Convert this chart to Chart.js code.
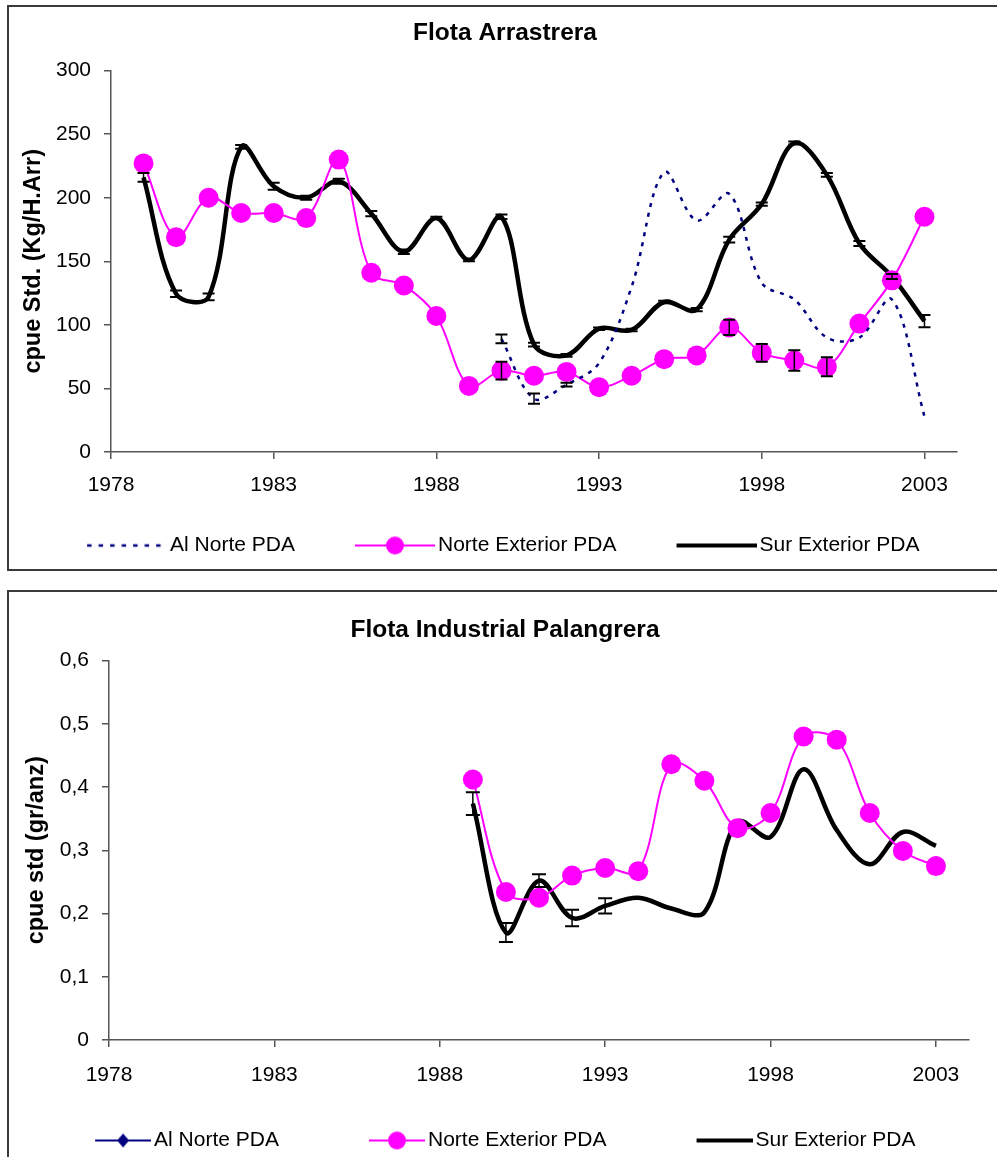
<!DOCTYPE html>
<html lang="es">
<head>
<meta charset="UTF-8">
<title>CPUE estandarizada - Flota Arrastrera / Flota Industrial Palangrera</title>
<script src="https://cdn.jsdelivr.net/npm/chart.js"></script>
<style>
    html, body {
        margin: 0;
        padding: 0;
        background: #fff;
        overflow: hidden;
        width: 997px;
        height: 1157px;
    }
    .frame {
        position: absolute;
        border: 2px solid #3a3a3a;
        box-sizing: border-box;
    }
    #frame1 { left: 7px; top: 5px; width: 1010px; height: 566px; }
    #frame2 { left: 7px; top: 590px; width: 1010px; height: 600px; }
    canvas { position: absolute; left: 0; }
    #chart1 { top: 0; }
    #chart2 { top: 585px; }
</style>
</head>
<body>
<div class="frame" id="frame1"></div>
<div class="frame" id="frame2"></div>
<canvas id="chart1" width="1010" height="566"></canvas>
<canvas id="chart2" width="1010" height="576"></canvas>

<script>
// ---- data ----
const xTicks = [1978, 1983, 1988, 1993, 1998, 2003];

// Flota Arrastrera (kg/h.arr)
const years1 = [1979, 1980, 1981, 1982, 1983, 1984, 1985, 1986, 1987, 1988, 1989, 1990,
                1991, 1992, 1993, 1994, 1995, 1996, 1997, 1998, 1999, 2000, 2001, 2002, 2003];
const alNorte1 = [null, null, null, null, null, null, null, null, null, null, null, 89,
                  42, 53, 70, 130, 220, 182, 203, 133, 120, 90, 90, 120, 28];
const alNorte1Err = [0, 0, 0, 0, 0, 0, 0, 0, 0, 0, 0, 3.5,
                     4, 1.5, 0, 0, 0, 0, 0, 0, 0, 0, 0, 0, 0];
const norteExt1 = [227, 169, 200, 188, 188, 184, 230, 141, 131, 107, 52, 64,
                   60, 63, 51, 60, 73, 76, 98, 78, 72, 67, 101, 135, 185];
const norteExt1Err = [0, 0, 0, 0, 0, 0, 0, 0, 0, 0, 0, 7,
                      0, 0, 0, 0, 0, 0, 6, 7, 8, 7.5, 0, 0, 0];
const sur1 = [216, 124.5, 122, 240, 209, 200, 213, 187.5, 157.5, 184, 151, 185,
              84.5, 76, 97, 96, 118, 112, 167, 195, 243, 218, 164, 138, 103];
const sur1Err = [3.5, 2.5, 2.6, 1.5, 2.7, 1.5, 2, 2, 1.8, 1, 1, 1.8,
                 1.5, 1, 1, 1, 1, 1.3, 2.3, 1.3, 1.2, 1.5, 2, 2, 4.8];
const yTicks1 = [0, 50, 100, 150, 200, 250, 300];

// Flota Industrial Palangrera (gr/anz)
const years2 = [1989, 1990, 1991, 1992, 1993, 1994, 1995, 1996, 1997, 1998, 1999, 2000, 2001, 2002, 2003];
const alNorte2 = [];
const norteExt2 = [0.412, 0.234, 0.225, 0.26, 0.272, 0.267, 0.436, 0.41, 0.335, 0.359, 0.48, 0.475, 0.359, 0.299, 0.275];
const sur2 = [0.374, 0.17, 0.252, 0.193, 0.212, 0.225, 0.208, 0.202, 0.345, 0.321, 0.428, 0.332, 0.278, 0.329, 0.307];
const sur2Err = [0.018, 0.015, 0.01, 0.013, 0.012, 0, 0, 0, 0, 0, 0, 0, 0, 0, 0];
const yTicks2 = [0, 0.1, 0.2, 0.3, 0.4, 0.5, 0.6];

const seriesNames = ['Al Norte PDA', 'Norte Exterior PDA', 'Sur Exterior PDA'];

const NAVY = '#000080';
const MAGENTA = '#FF00FF';
const AXIS = '#555555';

Chart.defaults.font.family = '"Liberation Sans", Arial, sans-serif';
Chart.defaults.color = '#000';

function points(years, values) {
    return values.map((v, i) => ({ x: years[i], y: v }));
}

// vertical error bars drawn through the chart's own scales
function errorBars(sets, cap) {
    return {
        id: 'errorBars',
        afterDatasetsDraw(chart) {
            const ctx = chart.ctx;
            const xs = chart.scales.x;
            const ys = chart.scales.y;
            ctx.save();
            ctx.strokeStyle = '#000';
            sets.forEach(set => {
                set.values.forEach((v, i) => {
                    const e = set.errors[i];
                    if (v == null || !e) return;
                    const x = xs.getPixelForValue(set.years[i]);
                    const yT = ys.getPixelForValue(v + e);
                    const yB = ys.getPixelForValue(v - e);
                    ctx.lineWidth = 1.5;
                    ctx.beginPath();
                    ctx.moveTo(x, yT);
                    ctx.lineTo(x, yB);
                    ctx.stroke();
                    ctx.lineWidth = 2;
                    ctx.beginPath();
                    ctx.moveTo(x - cap, yT); ctx.lineTo(x + cap, yT);
                    ctx.moveTo(x - cap, yB); ctx.lineTo(x + cap, yB);
                    ctx.stroke();
                });
            });
            ctx.restore();
        }
    };
}

// legend samples (line + marker), line flush to the right side of the image
function sample(width, len, draw) {
    const c = document.createElement('canvas');
    c.width = width;
    c.height = 24;
    const g = c.getContext('2d');
    draw(g, width - len, width, 12);
    return c;
}
function dashedLine(g, a, b, y) {
    g.strokeStyle = NAVY; g.lineWidth = 2.5; g.setLineDash([4.5, 7]);
    g.beginPath(); g.moveTo(a, y); g.lineTo(b, y); g.stroke();
}
function circleLine(g, a, b, y) {
    g.strokeStyle = MAGENTA; g.lineWidth = 2;
    g.beginPath(); g.moveTo(a, y); g.lineTo(b, y); g.stroke();
    g.fillStyle = MAGENTA;
    g.beginPath(); g.arc((a + b) / 2, y, 9, 0, Math.PI * 2); g.fill();
}
function boldLine(g, a, b, y) {
    g.strokeStyle = '#000'; g.lineWidth = 4;
    g.beginPath(); g.moveTo(a, y); g.lineTo(b, y); g.stroke();
}
function diamondLine(g, a, b, y) {
    g.strokeStyle = NAVY; g.lineWidth = 2;
    g.beginPath(); g.moveTo(a, y); g.lineTo(b, y); g.stroke();
    const m = (a + b) / 2;
    g.fillStyle = NAVY;
    g.beginPath(); g.moveTo(m, y - 7); g.lineTo(m + 6, y); g.lineTo(m, y + 7); g.lineTo(m - 6, y); g.closePath(); g.fill();
}

function buildChart(id, o) {
    return new Chart(document.getElementById(id), {
        type: 'line',
        data: { datasets: o.datasets },
        options: {
            responsive: false,
            animation: false,
            events: [],
            layout: { padding: 0 },
            scales: {
                x: {
                    type: 'linear',
                    min: 1978,
                    max: 2004,
                    afterBuildTicks: s => { s.ticks = xTicks.map(v => ({ value: v })); },
                    afterFit: s => { s.height = o.xHeight; },
                    grid: { drawOnChartArea: false, drawTicks: true, tickLength: 7, color: AXIS, lineWidth: 1.5 },
                    border: { color: AXIS, width: 1.5 },
                    // mirrored labels are not clipped to the (thin) axis box; negative padding puts them below it
                    ticks: { mirror: true, padding: o.xPad, font: { size: 21 }, maxRotation: 0, autoSkip: false,
                             callback: v => String(v) }
                },
                y: {
                    min: 0,
                    max: o.yTicks[o.yTicks.length - 1],
                    afterBuildTicks: s => { s.ticks = o.yTicks.map(v => ({ value: v })); },
                    afterFit: s => { s.width = o.yWidth; },
                    grid: { drawOnChartArea: false, drawTicks: true, tickLength: 7, color: AXIS, lineWidth: 1.5 },
                    border: { color: AXIS, width: 1.5 },
                    ticks: { padding: 13, font: { size: 21 }, callback: o.yFormat },
                    title: {
                        display: true,
                        text: o.yTitle,
                        font: { size: 23.5, weight: 'bold' },
                        padding: { top: o.yTitlePad, bottom: 0 }
                    }
                },
                yR: {
                    position: 'right',
                    display: true,
                    grid: { display: false },
                    border: { display: false },
                    ticks: { display: false },
                    afterFit: s => { s.width = o.rightGap; }
                }
            },
            plugins: {
                title: {
                    display: true,
                    text: o.title,
                    font: { size: 24.5, weight: 'bold' },
                    padding: o.titlePad
                },
                legend: {
                    position: 'bottom',
                    labels: {
                        usePointStyle: true,
                        pointStyleWidth: o.legendBox,
                        padding: o.legendPad,
                        font: { size: 21 },
                        generateLabels: chart => Chart.defaults.plugins.legend.labels.generateLabels(chart)
                            .map((item, i) => Object.assign(item, { pointStyle: o.samples[i] }))
                    }
                },
                tooltip: { enabled: false }
            }
        },
        plugins: [errorBars(o.errorSets, o.cap)]
    });
}

// ---- Flota Arrastrera ----
const box1 = 69, len1 = 80;
buildChart('chart1', {
    title: 'Flota Arrastrera',
    titlePad: { top: 18.6, bottom: 22.6 },
    yTitle: 'cpue Std. (Kg/H.Arr)',
    yTitlePad: 19,
    yTicks: yTicks1,
    yFormat: v => String(v),
    yWidth: 111,
    rightGap: 53,
    xHeight: 19.5,
    xPad: -45.6,
    legendBox: box1,
    legendPad: 63.5,
    cap: 6,
    samples: [
        sample(box1 + 15, len1, dashedLine),
        sample(box1 + 15, len1, circleLine),
        sample(box1 + 15, len1, boldLine)
    ],
    datasets: [
        { label: seriesNames[0], data: points(years1, alNorte1), borderColor: NAVY, backgroundColor: NAVY,
          borderWidth: 2.5, borderDash: [4, 6], pointRadius: 0, tension: 0.35, fill: false },
        { label: seriesNames[1], data: points(years1, norteExt1), borderColor: MAGENTA, backgroundColor: MAGENTA,
          borderWidth: 2, pointRadius: 10, pointBorderWidth: 0, pointBackgroundColor: MAGENTA, tension: 0.35, fill: false },
        { label: seriesNames[2], data: points(years1, sur1), borderColor: '#000', backgroundColor: '#000',
          borderWidth: 4.5, pointRadius: 0, tension: 0.35, fill: false }
    ],
    errorSets: [
        { years: years1, values: sur1, errors: sur1Err },
        { years: years1, values: alNorte1, errors: alNorte1Err },
        { years: years1, values: norteExt1, errors: norteExt1Err }
    ]
});

// ---- Flota Industrial Palangrera ----
const box2 = 49, len2 = 56;
buildChart('chart2', {
    title: 'Flota Industrial Palangrera',
    titlePad: { top: 30.6, bottom: 15.6 },
    yTitle: 'cpue std (gr/anz)',
    yTitlePad: 22,
    yTicks: yTicks2,
    yFormat: v => (v === 0 ? '0' : v.toFixed(1).replace('.', ',')),
    yWidth: 109,
    rightGap: 41,
    xHeight: 0.5,
    xPad: -47.6,
    legendBox: box2,
    legendPad: 89.5,
    cap: 7,
    samples: [
        sample(box2 + 15, len2, diamondLine),
        sample(box2 + 15, len2, circleLine),
        sample(box2 + 15, len2, boldLine)
    ],
    datasets: [
        { label: seriesNames[0], data: points(years2, alNorte2), borderColor: NAVY, backgroundColor: NAVY,
          borderWidth: 2, pointRadius: 0, tension: 0.35, fill: false },
        { label: seriesNames[1], data: points(years2, norteExt2), borderColor: MAGENTA, backgroundColor: MAGENTA,
          borderWidth: 2, pointRadius: 10, pointBorderWidth: 0, pointBackgroundColor: MAGENTA, tension: 0.35, fill: false },
        { label: seriesNames[2], data: points(years2, sur2), borderColor: '#000', backgroundColor: '#000',
          borderWidth: 4.5, pointRadius: 0, tension: 0.35, fill: false }
    ],
    errorSets: [
        { years: years2, values: sur2, errors: sur2Err }
    ]
});
</script>
</body>
</html>
